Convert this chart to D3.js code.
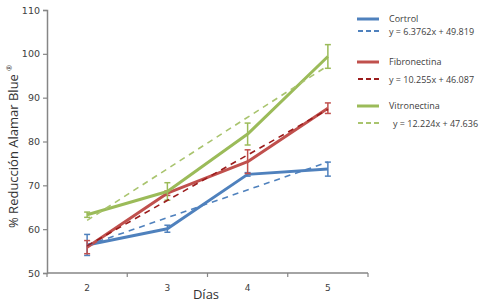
<!DOCTYPE html>
<html>
<head>
<meta charset="utf-8">
<script src="https://cdn.jsdelivr.net/npm/d3@7"></script>
<style>
  body { margin: 0; background: #fff; }
  svg { display: block; }
</style>
</head>
<body>
<svg id="chart"></svg>
<script>
// values
const days = ['2', '3', '4', '5'];
const seriesNames = ['Cortrol', 'Fibronectina', 'Vitronectina'];
const control = [56.4, 60.1, 72.5, 73.7];
const controlErr = [2.4, 0.8, 0.4, 1.6];
const fibronectina = [55.9, 68.2, 75.4, 87.6];
const fibronectinaErr = [1.5, 0.5, 2.7, 1.2];
const vitronectina = [63.3, 68.6, 81.7, 99.4];
const vitronectinaErr = [0.6, 2.0, 2.5, 2.7];
// trendlines: value at day 2 and day 5, as drawn
const trendStart = [56.3, 56.2, 62.0];
const trendEnd = [75.3, 87.3, 97.3];
const trendLabels = ['y = 6.3762x + 49.819', 'y = 10.255x + 46.087', 'y = 12.224x + 47.636'];
const yTicks = [50, 60, 70, 80, 90, 100, 110];

const width = 492, height = 304;
const colors = ['#4f81bd', '#c0504d', '#9bbb59'];
const dashColors = ['#4f81bd', '#9b1c1c', '#a9c46e'];
const axisColor = '#868686';

const svg = d3.select('#chart')
    .attr('width', width)
    .attr('height', height);

const x = d3.scaleBand()
    .domain(days)
    .range([47, 368])
    .paddingInner(0)
    .paddingOuter(0);

const y = d3.scaleLinear()
    .domain([50, 110])
    .range([273, 10]);

const cx = d => x(d) + x.bandwidth() / 2;

// y axis
const yAxis = d3.axisLeft(y).tickValues(yTicks).tickSize(4).tickPadding(3);
const gy = svg.append('g')
    .attr('transform', 'translate(47,0)')
    .call(yAxis);
gy.select('.domain').attr('stroke', axisColor).attr('stroke-width', 1.5);
gy.selectAll('.tick line').attr('stroke', axisColor).attr('stroke-width', 1.2);
gy.selectAll('.tick text')
    .attr('fill', '#404040')
    .style('font-family', 'DejaVu Sans, Verdana, sans-serif')
    .style('font-size', '9.5px');

// x axis: ticks on the band edges, labels in the middle
const xEdges = d3.scaleLinear().domain([0, days.length]).range(x.range());
const gx = svg.append('g')
    .attr('transform', 'translate(0,273)');
gx.append('line')
    .attr('x1', x.range()[0]).attr('x2', x.range()[1])
    .attr('stroke', axisColor).attr('stroke-width', 1.5);
gx.selectAll('line.tk')
    .data(d3.range(days.length + 1))
  .enter().append('line')
    .attr('class', 'tk')
    .attr('x1', d => xEdges(d)).attr('x2', d => xEdges(d))
    .attr('y1', 0).attr('y2', 4)
    .attr('stroke', axisColor).attr('stroke-width', 1.2);
gx.selectAll('text')
    .data(days)
  .enter().append('text')
    .attr('x', d => cx(d))
    .attr('y', 18)
    .attr('text-anchor', 'middle')
    .attr('fill', '#404040')
    .style('font-family', 'DejaVu Sans, Verdana, sans-serif')
    .style('font-size', '9px')
    .text(d => d);

// axis titles
svg.append('text')
    .attr('x', 206)
    .attr('y', 299)
    .attr('text-anchor', 'middle')
    .attr('fill', '#333')
    .style('font-family', 'Open Sans, sans-serif')
    .style('font-size', '13px')
    .text('Días');

const yTitle = svg.append('text')
    .attr('transform', 'translate(18,228) rotate(-90)')
    .attr('fill', '#333')
    .style('font-family', 'Open Sans, sans-serif')
    .style('font-size', '13px');
yTitle.append('tspan').text('% Reducción Alamar Blue ');
yTitle.append('tspan')
    .attr('dy', -6)
    .style('font-size', '7px')
    .text('®');

// series
const allValues = [control, fibronectina, vitronectina];
const allErr = [controlErr, fibronectinaErr, vitronectinaErr];

const line = d3.line()
    .x(d => cx(d.day))
    .y(d => y(d.value));

allValues.forEach((vals, s) => {
  const pts = days.map((day, i) => ({ day: day, value: vals[i], err: allErr[s][i] }));

  svg.append('path')
      .datum(pts)
      .attr('d', line)
      .attr('fill', 'none')
      .attr('stroke', colors[s])
      .attr('stroke-width', 3)
      .attr('stroke-linejoin', 'round');

  const eb = svg.append('g')
      .attr('stroke', colors[s])
      .attr('stroke-width', 1.5);
  eb.selectAll('line.v')
      .data(pts)
    .enter().append('line')
      .attr('class', 'v')
      .attr('x1', d => cx(d.day)).attr('x2', d => cx(d.day))
      .attr('y1', d => y(d.value + d.err)).attr('y2', d => y(d.value - d.err));
  eb.selectAll('line.top')
      .data(pts)
    .enter().append('line')
      .attr('class', 'top')
      .attr('x1', d => cx(d.day) - 3).attr('x2', d => cx(d.day) + 3)
      .attr('y1', d => y(d.value + d.err)).attr('y2', d => y(d.value + d.err));
  eb.selectAll('line.bot')
      .data(pts)
    .enter().append('line')
      .attr('class', 'bot')
      .attr('x1', d => cx(d.day) - 3).attr('x2', d => cx(d.day) + 3)
      .attr('y1', d => y(d.value - d.err)).attr('y2', d => y(d.value - d.err));
});

// trendlines on top
trendStart.forEach((v, s) => {
  svg.append('line')
      .attr('x1', cx(days[0])).attr('y1', y(v))
      .attr('x2', cx(days[days.length - 1])).attr('y2', y(trendEnd[s]))
      .attr('stroke', dashColors[s])
      .attr('stroke-width', 1.6)
      .attr('stroke-dasharray', '6,5');
});

// legend
const legend = svg.append('g').style('font-family', 'Open Sans, sans-serif').style('font-size', '9px');
const rowY = [19, 31, 62, 79, 106, 123];
seriesNames.forEach((name, s) => {
  const y1 = rowY[s * 2], y2 = rowY[s * 2 + 1];
  legend.append('line')
      .attr('x1', 357).attr('x2', 379)
      .attr('y1', y1).attr('y2', y1)
      .attr('stroke', colors[s]).attr('stroke-width', 3);
  legend.append('text')
      .attr('x', 389).attr('y', y1 + 3)
      .attr('fill', '#404040')
      .text(name);
  legend.append('line')
      .attr('x1', 358).attr('x2', 380)
      .attr('y1', y2).attr('y2', y2)
      .attr('stroke', dashColors[s]).attr('stroke-width', 2)
      .attr('stroke-dasharray', '5,3');
  legend.append('text')
      .attr('x', s === 2 ? 393 : 389).attr('y', y2 + 3.5)
      .attr('fill', '#404040')
      .text(trendLabels[s]);
});
</script>
</body>
</html>
